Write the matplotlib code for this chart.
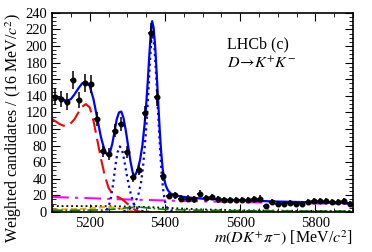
import numpy as np
import matplotlib
matplotlib.use('Agg')
import matplotlib.pyplot as plt
from matplotlib.ticker import MultipleLocator

plt.rcParams['font.family'] = ['Liberation Serif', 'DejaVu Serif']
plt.rcParams['mathtext.fontset'] = 'stix'

# data points (bin centres, 16 MeV bins)
m_data = np.arange(5108, 5900, 16)
n_data = [139, 136, 133, 159, 135, 155, 154, 112, 73, 70,
          98, 106, 72, 42, 50, 119, 216, 138, 43, 19,
          20, 16, 16, 15, 22, 17, 18, 15, 14, 14,
          14, 14, 14, 15, 16, 7, 12, 10, 10, 11,
          10, 10, 12, 13, 13, 13, 12, 12, 13, 10]
e_data = [10, 10, 10, 11, 10, 11, 11, 9, 7, 7,
          8, 9, 7, 5.5, 6, 9, 12, 10, 5.5, 4,
          4, 4, 4, 4, 4.5, 4, 4, 4, 3.5, 3.5,
          3.5, 3.5, 3.5, 4, 4, 2.5, 3.5, 3, 3, 3,
          3, 3, 3.5, 3.5, 3.5, 3.5, 3.5, 3.5, 3.5, 3]

# total fit
m_tot = [5100, 5110, 5120, 5130, 5140, 5150, 5160, 5170, 5180, 5190, 5200, 5210, 5220, 5230,
         5236, 5242, 5248, 5254, 5260, 5266, 5272, 5278, 5284, 5290, 5296, 5302, 5308, 5314,
         5318, 5322, 5328, 5334, 5340, 5346, 5350, 5354, 5358, 5362, 5366, 5370, 5374, 5378,
         5382, 5386, 5390, 5394, 5398, 5402, 5408, 5416, 5430, 5460, 5500, 5600, 5700, 5800, 5900]
y_tot = [140, 139, 137, 135, 134, 136, 142, 149, 155, 157, 152, 136, 113, 90,
         80, 72, 68, 72, 82, 97, 112, 120, 121, 113, 98, 80, 62, 48,
         44, 45, 52, 63, 80, 106, 128, 155, 185, 214, 230, 222, 200, 168,
         133, 100, 72, 52, 40, 32, 26, 22, 19.5, 17.5, 16, 14, 12.5, 11.5, 10.5]

# B0 signal
m_b0 = [5230, 5236, 5244, 5250, 5256, 5262, 5268, 5274, 5280, 5286, 5292, 5298, 5304, 5310,
        5316, 5322, 5330, 5340, 5350, 5360]
y_b0 = [0.2, 0.5, 2, 6, 16, 33, 55, 72, 79, 75, 62, 46, 32, 20,
        11, 6, 2.5, 1, 0.3, 0]

# Bs signal
m_bs = [5290, 5300, 5310, 5320, 5330, 5336, 5342, 5348, 5352, 5356, 5360, 5364, 5366, 5368,
        5372, 5376, 5380, 5384, 5388, 5392, 5396, 5400, 5404, 5410, 5420, 5430]
y_bs = [0.8, 2, 5, 10, 22, 34, 55, 88, 112, 145, 180, 208, 215, 213,
        198, 170, 135, 100, 68, 42, 24, 13, 6.5, 2.5, 0.5, 0]

# partially reconstructed background
m_part = [5100, 5110, 5120, 5130, 5140, 5150, 5160, 5170, 5180, 5190, 5200, 5210, 5220,
          5230, 5240, 5250, 5260, 5270, 5280, 5290, 5300, 5310, 5320, 5330, 5340, 5350]
y_part = [112, 109, 106, 104, 104, 107, 112, 120, 127, 130, 126, 110, 87,
          64, 44, 29, 22, 19, 17, 14, 10, 6, 2.5, 0.5, 0.1, 0]

# combinatorial background
m_comb = [5100, 5200, 5300, 5400, 5500, 5600, 5700, 5800, 5900]
y_comb = [18, 16.5, 15, 13.8, 12.7, 11.8, 11, 10.2, 9.5]

# other small components
m_small = [5100, 5150, 5200, 5240, 5270, 5300, 5330, 5360, 5400, 5450, 5500, 5600, 5700, 5800, 5900]
y_blk = [7, 7, 7, 7, 6.8, 6.5, 6.2, 5.8, 5, 4, 3, 2, 1.5, 1.2, 1]
y_orn = [3, 3.2, 4, 6, 5, 2, 0.5, 0, 0, 0, 0, 0, 0, 0, 0]
y_grn = [2, 2, 2.2, 2.5, 3.5, 5, 6, 4.5, 3, 2.5, 2, 1.5, 1.2, 1, 1]

fig = plt.figure(figsize=(3.72, 2.52), dpi=100)
ax = fig.add_axes([0.140, 0.159, 0.809, 0.790])

ax.plot(m_small, y_blk, color='black', ls=':', lw=1.3)
ax.plot(m_small, y_orn, color='orange', ls='--', lw=1.5, dashes=(3, 1.5))
ax.plot(m_small, y_grn, color='green', ls='-.', lw=1.2)
ax.plot(m_comb, y_comb, color='magenta', lw=1.5, dashes=(8, 3, 1.5, 3))
ax.plot(m_part, y_part, color='red', lw=1.5, dashes=(7, 3))
ax.plot(m_b0, y_b0, color='blue', ls=':', lw=1.6)
ax.plot(m_bs, y_bs, color='blue', ls=':', lw=1.6)
ax.plot(m_tot, y_tot, color='blue', lw=1.6)
ax.errorbar(m_data, n_data, yerr=e_data, xerr=8, fmt='o', color='black',
            ms=3.3, elinewidth=1.1, capsize=0)

ax.set_xlim(5100, 5900)
ax.set_ylim(0, 240)
ax.xaxis.set_major_locator(MultipleLocator(200))
ax.xaxis.set_minor_locator(MultipleLocator(50))
ax.yaxis.set_major_locator(MultipleLocator(20))
ax.yaxis.set_minor_locator(MultipleLocator(5))
ax.tick_params(which='both', direction='in', top=True, right=True, labelsize=10.5)
ax.tick_params(which='major', length=6)
ax.tick_params(which='minor', length=3)
for s in ax.spines.values():
    s.set_linewidth(1.2)

ax.set_xlabel(r'$m(DK^{+}\pi^{-})$ [MeV/$c^{2}$]', fontsize=11.5, loc='right', labelpad=-1)
ax.set_ylabel(r'Weighted candidates / (16 MeV/$c^{2}$)', fontsize=11.5, loc='top', labelpad=1)

ax.text(0.58, 0.82, 'LHCb (c)', transform=ax.transAxes, fontsize=11.5)
ax.text(0.58, 0.725, r'$D\!\rightarrow\!K^{+}K^{-}$', transform=ax.transAxes, fontsize=11.5)

fig.savefig('out.png', dpi=100)
